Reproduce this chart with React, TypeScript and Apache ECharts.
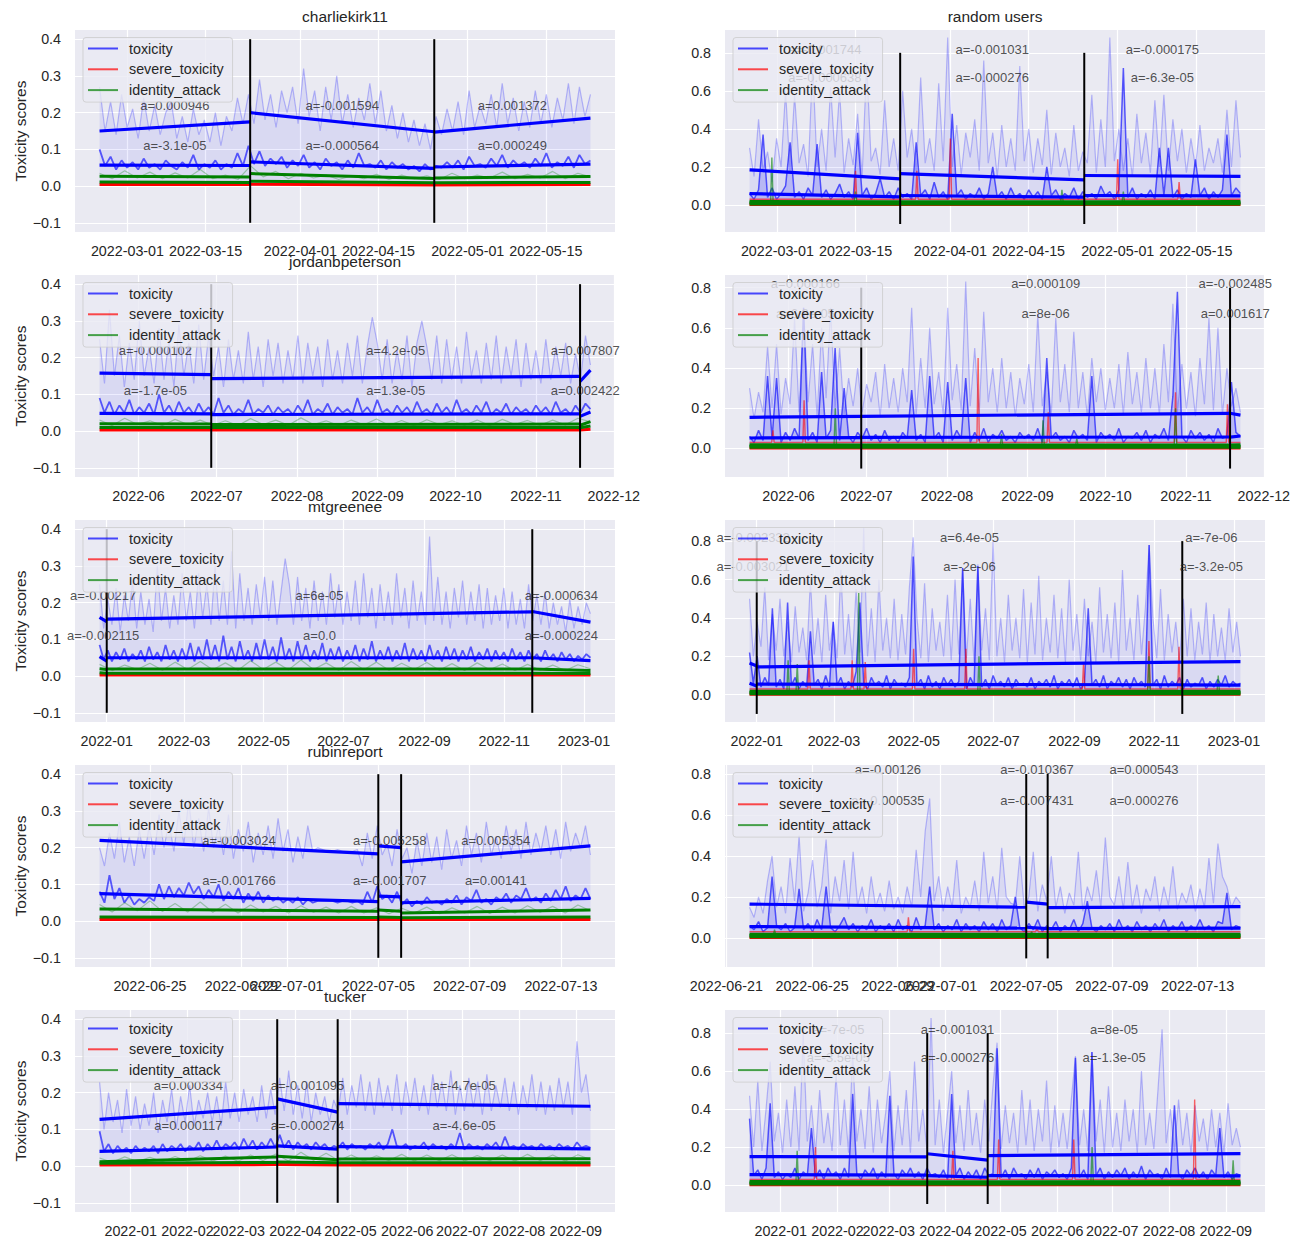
import React, { useEffect, useRef } from 'react';
import * as echarts from 'echarts';

const FONT = '"Liberation Sans", Arial, Helvetica, sans-serif';
const TXT = '#262626';

// ---------- axes / ticks ----------
const ROW1_TICKS = ['2022-03-01', '2022-03-15', '2022-04-01', '2022-04-15', '2022-05-01', '2022-05-15'];
const ROW2_TICKS = ['2022-06-01', '2022-07-01', '2022-08-01', '2022-09-01', '2022-10-01', '2022-11-01', '2022-12-01'];
const ROW3_TICKS = ['2022-01-01', '2022-03-01', '2022-05-01', '2022-07-01', '2022-09-01', '2022-11-01', '2023-01-01'];
const ROW4_TICKS = ['2022-06-21', '2022-06-25', '2022-06-29', '2022-07-01', '2022-07-05', '2022-07-09', '2022-07-13'];
const ROW5_TICKS = ['2022-01-01', '2022-02-01', '2022-03-01', '2022-04-01', '2022-05-01', '2022-06-01', '2022-07-01', '2022-08-01', '2022-09-01'];
const ROW_DAY_FMT = [true, false, false, true, false];

const LEFT_YTICKS = [-0.1, 0, 0.1, 0.2, 0.3, 0.4];
const RIGHT_YTICKS = [0, 0.2, 0.4, 0.6, 0.8];
const LEFT_Y = [-0.125, 0.425];
const RIGHT_Y_MIN = -0.142;
const RIGHT_Y_MAX = [0.92, 0.863, 0.91, 0.844, 0.922];
const VLINE_L = [-0.1, 0.4];
const VLINE_R = [-0.1, 0.8];
const ANN_Y_L = [0.22, 0.11];
const ANN_Y_R = [0.82, 0.67];

// ---------- date ranges / breakpoints ----------
const ROW1_RANGE = ['2022-02-24', '2022-05-23'];
const ROW1_BREAKS = ['2022-03-23', '2022-04-25'];
const ROW2_RANGE = ['2022-05-17', '2022-11-22'];
const ROW2_BREAKS = ['2022-06-29', '2022-11-18'];
const ROW3_RANGE = ['2021-12-26T12:00', '2023-01-06'];
const ROW3_BREAKS = ['2022-01-01', '2022-11-22T12:00'];
const ROW4_RANGE_L = ['2022-06-22T19:00', '2022-07-14T07:00'];
const ROW4_RANGE_R = ['2022-06-22T02:00', '2022-07-15'];
const ROW4_BREAKS = ['2022-07-05', '2022-07-06'];
const ROW5_RANGE = ['2021-12-15', '2022-09-09'];
const ROW5_BREAKS = ['2022-03-22', '2022-04-24'];

// ---------- values (thousandths) ----------
// charliekirk11
const CK_LIGHT = [270,150,230,140,250,160, 210,130,240,150,220,140,200, 230,130,190,120,210,140,180, 120,200,110,190,150,240,170, 250, 170,290,180,250,160,260,200, 270,170,320,190,260,150,270, 180,300,170,250,160,240,180, 280,170,260,150,220,130,200, 120,180,110,170,100,190,140, 210,150,230,140,260,160,220, 170,250,160,280,170,240,150, 230,160,260,170,250,160,240, 180,280,170,270,190,250];
const CK_DARK = [100,55,80,45,70,50, 65,45,75,50,60,45,70, 55,45,65,50,85,45,60, 50,70,45,60,50,90,55, 110, 60,95,55,75,60,80,50, 70,55,85,50,65,45,75, 55,65,45,70,50,90,55, 60,50,70,45,65,50,60, 45,55,40,60,45,55,50, 65,50,70,45,80,55,60, 50,75,55,85,50,70,55, 65,50,75,55,90,50,65, 55,80,50,85,60,70];
const CK_GREEN = [35,20,42,22,38,20,36,22,45,20,30,18,55,25,40,20,35,22,30,18,28,20,32,18,30,20,28,18,35,20,30,22,38,20,32,22,40,20,35,25];
const CK_HI = [[0.150, 0.175], [0.200, 0.148], [0.147, 0.185]];
const CK_LO = [[0.057, 0.056], [0.066, 0.048], [0.052, 0.060]];
const CK_GHI = [[0.027, 0.025], [0.034, 0.021], [0.022, 0.026]];
const CK_GLO = [[0.011, 0.010], [0.013, 0.009], [0.009, 0.010]];
const CK_RED = [[0.004, 0.004], [0.005, 0.003], [0.003, 0.004]];
const CK_ANN_HI = ['a=0.000946', 'a=-0.001594', 'a=0.001372'];
const CK_ANN_LO = ['a=-3.1e-05', 'a=-0.000564', 'a=0.000249'];

// random users (row 1)
const RU1_LIGHT = [300,150,450,180,280,120,350,200,600,170, 580,220,320,150,750,200,400,180,620,250, 600,170,350,210,480,150,750,230,300,160, 550,200,350,180,600,250,400,170,670,220, 350,180,640,230,880,200,420,160,380,250, 450,180,760,220,380,150,420,200,350,180, 730,230,400,170,350,210,500,160,380,200, 300,150,420,180,280,220,580,170,450,200, 880,230,400,180,350,150,480,220,380,170, 550,200,580,180,450,230,400,170,350,200, 420,180,300,220,350,170,500,200,550,250];
const RU1_DARK = [60,30,80,370,40,90,30,60,100,330, 40,70,30,90,50,320,40,80,30,60, 110,40,70,30,380,50,90,30,60,140, 40,70,30,90,40,60,30,330,50,80, 30,120,40,70,30,480,50,80,30,60, 40,90,30,60,200,40,70,30,90,40, 60,30,80,40,70,30,200,50,80,30, 60,40,90,30,70,40,60,30,100,50, 70,30,80,720,40,90,30,60,40,80, 30,300,50,300,40,80,30,60,40,240, 50,90,30,70,40,80,370,50,90,60];
const RU1_REDSPK = [['2022-03-15', 0.18], ['2022-03-26', 0.18], ['2022-04-01', 0.35], ['2022-05-01', 0.24], ['2022-05-12', 0.12]];
const RU1_GREENSPK = [['2022-02-28', 0.25], ['2022-03-15', 0.07], ['2022-04-21', 0.08], ['2022-05-02', 0.07]];
const RU1_HI = [[0.185, 0.137], [0.165, 0.132], [0.155, 0.150]];
const RU1_LO = [[0.060, 0.043], [0.050, 0.041], [0.050, 0.048]];
const RU1_ANN_HI = ['a=-0.001744', 'a=-0.001031', 'a=-0.000175'];
const RU1_ANN_LO = ['a=-0.000638', 'a=-0.000276', 'a=-6.3e-05'];

// jordanbpeterson
const JP_LIGHT = [250,130,330,150,260,120,240,140,300,150, 230,130,280,140,250,120,290,150,240,130, 290,140,260,150,230,120,250,140,220,130, 270,140,230,120,250,150,240,130,220,140, 260,130,240,150,230,120,250,140,220,130, 240,150,260,130,230,310,240,140,250,130, 220,140,260,120,240,300,230,140,260,130, 250,140,230,130,270,150,220,130,240,140, 260,130,230,150,250,120,240,140,220,130, 250,140,230,150,240,130,210,140,260,180];
const JP_DARK = [90,50,80,45,70,50,85,45,65,50, 75,45,100,50,70,45,80,50,65,45, 75,50,65,45,90,50,70,45,60,50, 85,45,60,50,70,45,65,50,60,45, 70,50,85,45,60,50,75,45,65,50, 60,45,90,50,65,45,85,50,60,45, 70,50,65,45,80,50,60,45,75,50, 65,45,85,50,60,45,70,50,80,45, 60,50,75,45,65,50,60,45,70,50, 65,45,80,50,60,45,70,50,75,60];
const JP_GREEN = [30,15,35,18,28,15,32,18,30,16,28,15,34,18,30,16,36,18,28,15,30,17,33,16,29,15,31,18,28,16,30,15,32,18,29,16,30,17,35,25];
const JP_HI = [[0.158, 0.154], [0.143, 0.149], [0.135, 0.166]];
const JP_LO = [[0.048, 0.047], [0.045, 0.047], [0.040, 0.052]];
const JP_GHI = [[0.020, 0.019], [0.018, 0.019], [0.016, 0.026]];
const JP_GLO = [[0.010, 0.010], [0.010, 0.010], [0.009, 0.014]];
const JP_RED = [[0.003, 0.003], [0.003, 0.003], [0.003, 0.005]];
const JP_ANN_HI = ['a=-0.000102', 'a=4.2e-05', 'a=0.007807'];
const JP_ANN_LO = ['a=-1.7e-05', 'a=1.3e-05', 'a=0.002422'];

// random users (row 2)
const RU2_LIGHT = [300,150,280,180,510,200,520,170,350,220, 650,180,700,230,520,160,600,250,700,200, 500,170,350,210,400,180,320,230,380,160, 420,200,350,180,400,230,700,170,450,200, 600,220,380,170,700,240,420,190,830,210, 500,170,680,230,400,180,450,200,380,160, 350,220,420,180,670,210,380,170,650,230, 420,180,580,200,380,160,450,230,400,190, 350,200,420,170,480,220,380,180,450,200, 400,170,520,230,720,180,420,200,380,160, 450,220,650,190,600,170,400,210,300,180];
const RU2_DARK = [60,30,90,40,360,50,350,30,80,40, 100,50,700,40,80,30,380,50,90,500, 40,300,60,30,80,50,100,40,70,30, 90,40,60,30,80,50,290,40,70,30, 360,50,80,30,330,40,90,50,350,30, 80,40,100,30,70,50,90,40,60,30, 80,50,70,40,100,30,450,50,80,40, 60,30,90,50,70,40,360,30,80,50, 70,40,100,30,60,50,80,40,90,30, 70,50,100,40,260,780,60,30,90,50, 80,40,70,30,100,50,60,330,80,60];
const RU2_REDSPK = [['2022-05-26', 0.09], ['2022-06-07', 0.24], ['2022-08-13', 0.45], ['2022-09-09', 0.18], ['2022-10-28', 0.28], ['2022-11-17', 0.22]];
const RU2_GREENSPK = [['2022-06-19', 0.2], ['2022-08-22', 0.07], ['2022-09-07', 0.14], ['2022-09-20', 0.05], ['2022-10-28', 0.2]];
const RU2_HI = [[0.155, 0.160], [0.160, 0.175], [0.175, 0.166]];
const RU2_LO = [[0.052, 0.054], [0.055, 0.057], [0.056, 0.062]];
const RU2_ANN_HI = ['a=0.000166', 'a=0.000109', 'a=-0.002485'];
const RU2_ANN_LO = ['a=6.8e-05', 'a=8e-06', 'a=0.001617'];

// mtgreenee
const MT_LIGHT = [250,130,210,140,240,120,220,150,260,130, 230,140,210,120,300,150,240,130,220,140, 280,150,230,130,280,160,250,140,300,150, 260,140,340,130,280,150,240,140,250,160, 270,150,260,140,230,320,250,140,270,150, 240,130,260,150,230,140,280,160,250,140, 230,150,260,140,280,160,240,130,250,150, 230,140,280,160,240,130,260,150,230,140, 380,150,270,140,230,130,240,160,260,140, 230,150,250,130,240,140,220,150,240,130, 230,140,210,130,250,150,220,140,230,130, 200,140,190,120,210,130,190,140,200,170];
const MT_DARK = [85,45,70,40,65,45,75,40,60,45, 70,40,80,45,65,40,85,45,70,40, 75,45,90,40,80,45,100,45,85,40, 110,45,80,40,95,45,70,40,90,45, 100,45,80,40,105,45,75,40,95,45, 85,40,70,45,90,40,75,45,80,40, 70,45,85,40,75,45,95,40,70,45, 80,40,70,45,90,40,75,45,70,40, 85,45,70,40,80,45,75,40,70,45, 80,40,65,45,75,40,70,45,65,40, 75,45,65,40,70,45,60,40,70,45, 60,40,65,45,60,40,55,45,60,50];
const MT_GREEN = [32,15,30,18,35,16,38,18,40,17,36,16,42,18,38,17,44,18,36,16,40,17,38,16,35,18,37,16,34,15,36,17,33,15,32,16,30,15,31,20];
const MT_HI = [[0.160, 0.148], [0.155, 0.175], [0.176, 0.147]];
const MT_LO = [[0.053, 0.041], [0.050, 0.050], [0.050, 0.042]];
const MT_GHI = [[0.020, 0.018], [0.019, 0.019], [0.019, 0.015]];
const MT_GLO = [[0.009, 0.008], [0.008, 0.008], [0.008, 0.007]];
const MT_RED = [[0.003, 0.003], [0.003, 0.003], [0.003, 0.003]];
const MT_ANN_HI = ['a=-0.00217', 'a=6e-05', 'a=-0.000634'];
const MT_ANN_LO = ['a=-0.002115', 'a=0.0', 'a=-0.000224'];

// random users (row 3)
const RU3_LIGHT = [500,200,380,250,560,180,420,230,500,200, 380,170,460,220,350,180,600,210,400,170, 520,230,380,190,650,210,420,180,550,220, 870,200,450,170,600,230,400,190,500,180, 420,210,560,820,400,190,580,170,450,230, 380,200,520,180,600,210,660,190,500,170, 680,230,450,180,800,200,400,170,520,230, 400,190,550,170,480,210,620,180,400,220, 520,190,450,170,600,230,420,180,500,200, 380,170,560,220,420,190,480,170,650,230, 400,180,520,210,450,780,400,190,550,180, 420,220,380,170,500,200,450,180,380,210, 480,170,420,200,350,180,450,220,380,200];
const RU3_DARK = [220,60,200,40,90,50,450,40,80,30, 480,50,90,30,70,40,330,50,80,30, 100,40,380,50,90,30,70,40,120,480, 60,30,90,50,70,40,100,30,80,50, 60,40,90,720,50,80,30,100,40,70, 30,90,50,80,40,70,660,30,90,50, 670,40,80,30,100,50,70,40,90,30, 80,50,60,40,90,30,70,50,80,40, 100,30,70,50,80,40,90,30,60,450, 50,80,40,100,30,70,50,90,40,80, 30,90,50,70,40,780,50,80,30,100, 40,70,50,90,30,80,40,60,50,90, 30,70,40,80,50,100,40,70,50,60];
const RU3_REDSPK = [['2022-02-10', 0.18], ['2022-03-15', 0.18], ['2022-03-25', 0.17], ['2022-05-01', 0.24], ['2022-06-10', 0.24], ['2022-09-08', 0.17], ['2022-10-28', 0.28], ['2022-11-20', 0.25]];
const RU3_GREENSPK = [['2022-01-25', 0.18], ['2022-02-01', 0.16], ['2022-03-20', 0.53], ['2022-06-20', 0.2], ['2022-10-28', 0.2], ['2022-12-20', 0.1]];
const RU3_HI = [[0.165, 0.150], [0.145, 0.170], [0.170, 0.172]];
const RU3_LO = [[0.060, 0.045], [0.055, 0.052], [0.051, 0.050]];
const RU3_ANN_HI = ['a=-0.002332', 'a=6.4e-05', 'a=-7e-06'];
const RU3_ANN_LO = ['a=-0.003021', 'a=-2e-06', 'a=-3.2e-05'];

// rubinreport
const RR_LIGHT = [200,150,240,170,270,160,230,150,250,170, 260,180,290,200,270,190,300,210,330,200, 280,190,310,200,260,180,290,170,250,190, 270,160,240,180,260,170,280,190,250,160, 230,170,260,190,200,195,190,190,195,190, 190,190,195,150,240,170,260,180,210,150, 250,170,200,130,220,150,240,160,230,140, 250,170,220,150,260,180,240,160,270,180, 230,170,260,190,250,170,270,180,240,190, 260,180,250,170,270,190,240,200,260,180];
const RR_DARK = [80,50,125,60,90,50,70,45,60,50, 65,55,100,60,95,65,90,70,105,75, 95,60,85,65,100,55,80,60,90,50, 75,55,80,50,70,55,65,50,60,50, 65,45,60,50,55,55,55,55,50,55, 55,50,55,45,80,50,95,60,70,50, 80,45,60,40,55,45,65,50,55,45, 60,50,70,45,65,55,85,50,60,45, 65,55,75,50,70,60,90,55,65,50, 75,55,85,60,95,55,70,60,90,60];
const RR_GREEN = [45,25,50,28,55,26,48,25,52,24,46,22,44,25,40,22,42,24,38,22,40,22,36,20,35,22,38,20,36,22,40,21,38,22,42,24,40,22,44,28];
const RR_HI = [[0.220, 0.183], [0.205, 0.200], [0.161, 0.205]];
const RR_LO = [[0.075, 0.053], [0.068, 0.066], [0.050, 0.062]];
const RR_GHI = [[0.033, 0.027], [0.030, 0.027], [0.022, 0.030]];
const RR_GLO = [[0.011, 0.010], [0.011, 0.010], [0.009, 0.011]];
const RR_RED = [[0.004, 0.004], [0.004, 0.004], [0.004, 0.004]];
const RR_ANN_HI = ['a=-0.003024', 'a=-0.005258', 'a=0.005354'];
const RR_ANN_LO = ['a=-0.001766', 'a=-0.001707', 'a=0.00141'];

// random users (row 4)
const RU4_LIGHT = [150,100,200,120,280,400,150,250,120,390, 180,500,130,220,380,150,250,480,120,300, 180,380,140,420,160,250,120,300,150,220, 130,280,140,200,120,250,150,430,200,520, 680,180,300,130,250,150,380,120,200,150, 280,130,420,170,300,140,440,200,170,160, 400,150,200,420,130,260,180,400,150,250, 120,220,160,420,130,250,180,330,150,490, 200,160,300,140,370,150,260,120,240,180, 300,130,250,160,350,140,220,170,260,130, 240,150,390,170,460,300,250,150,200,170];
const RU4_DARK = [60,40,80,30,50,300,60,40,70,30, 50,240,40,70,30,90,40,250,50,30, 60,100,40,70,30,60,40,90,30,60, 40,70,30,90,40,60,30,100,40,60, 250,40,70,30,60,40,90,30,70,40, 60,30,80,40,70,30,90,40,60,200, 50,30,70,40,90,30,60,40,80,30, 60,40,90,30,70,180,50,30,60,40, 70,30,90,40,60,30,80,40,60,30, 70,40,90,30,60,40,80,30,60,40, 90,40,60,30,80,70,220,40,60,50];
const RU4_REDSPK = [['2022-06-29T12:00', 0.1], ['2022-07-05T12:00', 0.05]];
const RU4_GREENSPK = [['2022-06-23T06:00', 0.04], ['2022-07-05T06:00', 0.03]];
const RU4_HI = [[0.165, 0.150], [0.175, 0.165], [0.148, 0.153]];
const RU4_LO = [[0.055, 0.048], [0.052, 0.045], [0.045, 0.048]];
const RU4_ANN_HI = ['a=-0.00126', 'a=-0.010367', 'a=0.000543'];
const RU4_ANN_LO = ['a=-0.000535', 'a=-0.007431', 'a=0.000276'];

// tucker
const TK_LIGHT = [230,100,200,120,180,90,210,110,190,100, 170,110,200,90,180,120,210,100,190,120, 220,110,180,130,200,120,190,110,230,130, 200,120,210,140,190,120,220,130,210,140, 240,150,260,140,220,130,230,120,200,140, 190,120,180,150,240,140,220,160,250,150, 230,140,240,160,220,150,250,140,230,160, 240,150,220,140,250,160,230,150,260,140, 220,150,240,160,230,140,250,150,220,160, 240,150,230,140,220,160,250,150,230,140, 220,150,240,160,230,140,340,200,250,150];
const TK_DARK = [95,40,60,35,55,40,50,35,55,40, 50,40,55,35,60,40,55,45,60,40, 55,45,65,40,60,45,70,45,60,50, 65,45,75,50,70,45,65,50,75,50, 85,50,70,45,65,50,60,45,65,50, 60,45,55,50,65,45,60,50,55,45, 60,50,65,45,60,100,55,50,60,45, 55,50,65,45,60,50,55,45,60,50, 90,45,60,50,55,45,60,50,65,45, 80,50,55,45,60,50,55,45,60,50, 55,45,60,50,55,45,65,50,55,50];
const TK_GREEN = [22,10,25,12,24,12,26,13,28,14,27,13,30,15,33,14,38,16,35,15,30,14,28,15,32,14,30,15,31,14,29,15,30,14,32,15,30,14,31,18];
const TK_HI = [[0.127, 0.160], [0.183, 0.147], [0.170, 0.163]];
const TK_LO = [[0.040, 0.052], [0.055, 0.046], [0.053, 0.047]];
const TK_GHI = [[0.012, 0.025], [0.027, 0.017], [0.019, 0.020]];
const TK_GLO = [[0.008, 0.010], [0.011, 0.009], [0.009, 0.009]];
const TK_RED = [[0.003, 0.004], [0.004, 0.003], [0.003, 0.003]];
const TK_ANN_HI = ['a=0.000334', 'a=-0.001095', 'a=-4.7e-05'];
const TK_ANN_LO = ['a=0.000117', 'a=-0.000274', 'a=-4.6e-05'];

// random users (row 5)
const RU5_LIGHT = [470,200,550,180,400,650,230,380,170,450, 200,520,180,800,230,420,170,500,220,380, 180,600,210,450,170,700,230,400,190,520, 170,450,220,380,600,180,420,210,500,170, 650,230,400,190,880,210,450,170,380,600, 220,420,180,500,210,380,170,450,230,520, 750,190,420,220,380,170,500,210,450,180, 400,230,550,170,420,200,380,190,450,680, 210,400,180,700,230,450,170,520,200,380, 180,450,230,400,170,600,210,380,190,500, 820,220,400,180,450,210,380,170,420,230, 350,180,400,200,380,170,430,210,300,200];
const RU5_DARK = [350,50,80,30,90,430,40,70,30,60, 40,90,30,70,50,300,40,80,30,90, 50,70,30,90,40,480,60,30,80,50, 90,30,70,40,470,60,30,80,50,90, 40,70,30,90,50,60,40,80,30,480, 50,90,30,70,40,80,30,90,50,60, 720,40,80,30,90,50,60,30,80,40, 90,30,70,50,80,40,60,30,90,670, 40,80,30,700,50,90,30,70,40,80, 50,90,30,70,40,100,30,80,50,60, 30,90,40,420,60,30,80,50,90,40, 70,30,80,50,300,40,70,30,60,50];
const RU5_REDSPK = [['2022-01-20', 0.2], ['2022-04-05', 0.18], ['2022-04-30', 0.24], ['2022-06-10', 0.24], ['2022-08-15', 0.45]];
const RU5_GREENSPK = [['2022-01-10', 0.18], ['2022-06-20', 0.2], ['2022-09-05', 0.13]];
const RU5_HI = [[0.150, 0.148], [0.165, 0.131], [0.155, 0.165]];
const RU5_LO = [[0.055, 0.052], [0.050, 0.041], [0.050, 0.048]];
const RU5_ANN_HI = ['a=-7e-05', 'a=-0.001031', 'a=8e-05'];
const RU5_ANN_LO = ['a=-3.5e-05', 'a=-0.000276', 'a=-1.3e-05'];

// shared trend levels for random users (identity / severe)
const RAND_GHI = [[0.016, 0.015], [0.015, 0.015], [0.015, 0.016]];
const RAND_GLO = [[0.008, 0.008], [0.008, 0.008], [0.008, 0.008]];
const RAND_RED = [[0.002, 0.002], [0.002, 0.002], [0.002, 0.002]];

const TITLES_LEFT = ['charliekirk11', 'jordanbpeterson', 'mtgreenee', 'rubinreport', 'tucker'];
const TITLE_RIGHT_TOP = 'random users';

type Panel = {
  col: number; row: number; range: string[]; breaks: string[];
  light: number[]; dark: number[]; green?: number[];
  redSpk?: any[]; greenSpk?: any[];
  hi: number[][]; lo: number[][]; ghi: number[][]; glo: number[][]; red: number[][];
  annHi: string[]; annLo: string[];
};

const PANELS: Panel[] = [
  { col: 0, row: 0, range: ROW1_RANGE, breaks: ROW1_BREAKS, light: CK_LIGHT, dark: CK_DARK, green: CK_GREEN, hi: CK_HI, lo: CK_LO, ghi: CK_GHI, glo: CK_GLO, red: CK_RED, annHi: CK_ANN_HI, annLo: CK_ANN_LO },
  { col: 1, row: 0, range: ROW1_RANGE, breaks: ROW1_BREAKS, light: RU1_LIGHT, dark: RU1_DARK, redSpk: RU1_REDSPK, greenSpk: RU1_GREENSPK, hi: RU1_HI, lo: RU1_LO, ghi: RAND_GHI, glo: RAND_GLO, red: RAND_RED, annHi: RU1_ANN_HI, annLo: RU1_ANN_LO },
  { col: 0, row: 1, range: ROW2_RANGE, breaks: ROW2_BREAKS, light: JP_LIGHT, dark: JP_DARK, green: JP_GREEN, hi: JP_HI, lo: JP_LO, ghi: JP_GHI, glo: JP_GLO, red: JP_RED, annHi: JP_ANN_HI, annLo: JP_ANN_LO },
  { col: 1, row: 1, range: ROW2_RANGE, breaks: ROW2_BREAKS, light: RU2_LIGHT, dark: RU2_DARK, redSpk: RU2_REDSPK, greenSpk: RU2_GREENSPK, hi: RU2_HI, lo: RU2_LO, ghi: RAND_GHI, glo: RAND_GLO, red: RAND_RED, annHi: RU2_ANN_HI, annLo: RU2_ANN_LO },
  { col: 0, row: 2, range: ROW3_RANGE, breaks: ROW3_BREAKS, light: MT_LIGHT, dark: MT_DARK, green: MT_GREEN, hi: MT_HI, lo: MT_LO, ghi: MT_GHI, glo: MT_GLO, red: MT_RED, annHi: MT_ANN_HI, annLo: MT_ANN_LO },
  { col: 1, row: 2, range: ROW3_RANGE, breaks: ROW3_BREAKS, light: RU3_LIGHT, dark: RU3_DARK, redSpk: RU3_REDSPK, greenSpk: RU3_GREENSPK, hi: RU3_HI, lo: RU3_LO, ghi: RAND_GHI, glo: RAND_GLO, red: RAND_RED, annHi: RU3_ANN_HI, annLo: RU3_ANN_LO },
  { col: 0, row: 3, range: ROW4_RANGE_L, breaks: ROW4_BREAKS, light: RR_LIGHT, dark: RR_DARK, green: RR_GREEN, hi: RR_HI, lo: RR_LO, ghi: RR_GHI, glo: RR_GLO, red: RR_RED, annHi: RR_ANN_HI, annLo: RR_ANN_LO },
  { col: 1, row: 3, range: ROW4_RANGE_R, breaks: ROW4_BREAKS, light: RU4_LIGHT, dark: RU4_DARK, redSpk: RU4_REDSPK, greenSpk: RU4_GREENSPK, hi: RU4_HI, lo: RU4_LO, ghi: RAND_GHI, glo: RAND_GLO, red: RAND_RED, annHi: RU4_ANN_HI, annLo: RU4_ANN_LO },
  { col: 0, row: 4, range: ROW5_RANGE, breaks: ROW5_BREAKS, light: TK_LIGHT, dark: TK_DARK, green: TK_GREEN, hi: TK_HI, lo: TK_LO, ghi: TK_GHI, glo: TK_GLO, red: TK_RED, annHi: TK_ANN_HI, annLo: TK_ANN_LO },
  { col: 1, row: 4, range: ROW5_RANGE, breaks: ROW5_BREAKS, light: RU5_LIGHT, dark: RU5_DARK, redSpk: RU5_REDSPK, greenSpk: RU5_GREENSPK, hi: RU5_HI, lo: RU5_LO, ghi: RAND_GHI, glo: RAND_GLO, red: RAND_RED, annHi: RU5_ANN_HI, annLo: RU5_ANN_LO },
];
const ROW_TICKS = [ROW1_TICKS, ROW2_TICKS, ROW3_TICKS, ROW4_TICKS, ROW5_TICKS];

// ---------- layout (not data) ----------
const GRID_LEFT = [75, 725];
const GRID_TOP = [30, 275, 520, 765, 1010];
const GRID_W = 540;
const GRID_H = 202;

const ms = (s: string) => Date.parse(s.length === 10 ? s + 'T00:00:00Z' : s + ':00Z');
const fmtDate = (v: number, day: boolean) => {
  const d = new Date(v);
  const y = d.getUTCFullYear();
  const m = String(d.getUTCMonth() + 1).padStart(2, '0');
  const dd = String(d.getUTCDate()).padStart(2, '0');
  return day ? `${y}-${m}-${dd}` : `${y}-${m}`;
};
const fmtY = (v: number) => {
  const s = Math.abs(v).toFixed(1);
  return v < -1e-9 ? '\u2212' + s : s;
};

function buildOption() {
  const grid: any[] = [];
  const xAxis: any[] = [];
  const yAxis: any[] = [];
  const series: any[] = [];
  const legend: any[] = [];
  const graphic: any[] = [];

  PANELS.forEach((p, gi) => {
    const left = GRID_LEFT[p.col];
    const top = GRID_TOP[p.row];
    const isL = p.col === 0;
    grid.push({ left, top, width: GRID_W, height: GRID_H, show: true, backgroundColor: '#eaeaf2', borderWidth: 0, containLabel: false, outerBoundsMode: 'none' });

    const t0 = ms(p.range[0]);
    const t1 = ms(p.range[1]);
    const span = t1 - t0;
    const xmin = t0 - 0.05 * span;
    const xmax = t1 + 0.05 * span;
    const xt = ROW_TICKS[p.row].map(ms).filter((v) => v >= xmin && v <= xmax);
    const dayFmt = ROW_DAY_FMT[p.row];
    xAxis.push({
      type: 'value', gridIndex: gi, min: xmin, max: xmax, scale: true,
      axisLine: { show: false }, axisTick: { show: false, customValues: xt },
      axisLabel: { customValues: xt, formatter: (v: number) => fmtDate(v, dayFmt), color: TXT, fontSize: 14.3, fontFamily: FONT, margin: 12 },
      splitLine: { show: true, lineStyle: { color: '#ffffff', width: 1.2 } },
    });
    const yt = isL ? LEFT_YTICKS : RIGHT_YTICKS;
    yAxis.push({
      type: 'value', gridIndex: gi,
      min: isL ? LEFT_Y[0] : RIGHT_Y_MIN, max: isL ? LEFT_Y[1] : RIGHT_Y_MAX[p.row],
      axisLine: { show: false }, axisTick: { show: false, customValues: yt },
      axisLabel: { customValues: yt, formatter: fmtY, color: TXT, fontSize: 14.3, fontFamily: FONT, margin: 14 },
      splitLine: { show: true, lineStyle: { color: '#ffffff', width: 1.2 } },
      name: isL ? 'Toxicity scores' : '', nameLocation: 'middle', nameGap: 46, nameRotate: 90,
      nameTextStyle: { color: TXT, fontSize: 15.5, fontFamily: FONT },
    });

    const sample = (arr: number[]) => arr.map((v, i) => [t0 + (span * i) / (arr.length - 1), v / 1000]);
    const base = { xAxisIndex: gi, yAxisIndex: gi, symbol: 'none', silent: true, animation: false };

    series.push({ ...base, type: 'line', data: sample(p.light), lineStyle: { color: 'rgba(0,0,255,0.24)', width: 1.2 }, areaStyle: { color: 'rgba(0,0,255,0.1)' }, z: 2 });
    series.push({
      ...base, type: 'line', data: sample(p.dark),
      lineStyle: { color: 'rgba(0,0,255,0.62)', width: isL ? 1.8 : 1.5 },
      areaStyle: isL ? undefined : { color: 'rgba(0,0,255,0.22)' }, z: 3,
    });
    if (p.green) {
      series.push({ ...base, type: 'line', data: sample(p.green), lineStyle: { color: 'rgba(0,128,0,0.3)', width: 1.2 }, z: 3 });
    }
    const spikeData = (spk: any[], b: number) => {
      const dt = span * 0.0025;
      const pts: any[] = [[t0, b]];
      spk.map((s) => [ms(s[0]), s[1]]).sort((a, c) => a[0] - c[0]).forEach((s) => {
        pts.push([s[0] - dt, b], [s[0], s[1]], [s[0] + dt, b]);
      });
      pts.push([t1, b]);
      return pts;
    };
    if (p.redSpk) series.push({ ...base, type: 'line', data: spikeData(p.redSpk, 0.03), lineStyle: { color: 'rgba(255,0,0,0.6)', width: 1.4 }, z: 4 });
    if (p.greenSpk) series.push({ ...base, type: 'line', data: spikeData(p.greenSpk, 0.015), lineStyle: { color: 'rgba(0,128,0,0.6)', width: 1.4 }, z: 4 });

    const seg = [t0, ms(p.breaks[0]), ms(p.breaks[1]), t1];
    const trend = (vals: number[][], color: string, width: number, name: string | null) => {
      vals.forEach((v, k) => {
        const s: any = { ...base, type: 'line', data: [[seg[k], v[0]], [seg[k + 1], v[1]]], lineStyle: { color, width }, z: 5 };
        if (k === 0 && name) s.name = name;
        series.push(s);
      });
    };
    trend(p.red, '#ff0000', 3, 'severe_toxicity');
    trend(p.glo, '#008000', isL ? 3 : 4, null);
    trend(p.ghi, '#008000', isL ? 3 : 4, 'identity_attack');
    trend(p.lo, '#0000ff', 3.2, null);
    trend(p.hi, '#0000ff', 3.2, 'toxicity');

    const vl = isL ? VLINE_L : VLINE_R;
    p.breaks.forEach((b) => {
      const tb = ms(b);
      series.push({ ...base, type: 'line', data: [[tb, vl[0]], [tb, vl[1]]], lineStyle: { color: '#000000', width: 2 }, z: 6 });
    });

    const ay = isL ? ANN_Y_L : ANN_Y_R;
    const annData: any[] = [];
    [0, 1, 2].forEach((k) => {
      const mid = (seg[k] + seg[k + 1]) / 2;
      annData.push({ value: [mid, ay[0]], label: { formatter: p.annHi[k] } });
      annData.push({ value: [mid, ay[1]], label: { formatter: p.annLo[k] } });
    });
    series.push({
      type: 'scatter', xAxisIndex: gi, yAxisIndex: gi, silent: true, animation: false, symbolSize: 1,
      itemStyle: { color: 'rgba(0,0,0,0)' }, data: annData, z: 7,
      label: { show: true, position: 'inside', color: TXT, fontSize: 13, fontFamily: FONT },
    });

    legend.push({
      left: left + 8, top: top + 7.5, orient: 'vertical', selectedMode: false, icon: 'rect',
      itemWidth: 30, itemHeight: 2, itemGap: 4.8, padding: [3, 9, 4, 5],
      backgroundColor: 'rgba(234,234,242,0.8)', borderColor: 'rgba(204,204,204,0.8)', borderWidth: 1, borderRadius: 3,
      textStyle: { color: TXT, fontSize: 14.3, fontFamily: FONT, lineHeight: 16, padding: [0, 0, 0, 6] },
      data: [
        { name: 'toxicity', itemStyle: { color: 'rgba(0,0,255,0.7)', borderWidth: 0 } },
        { name: 'severe_toxicity', itemStyle: { color: 'rgba(255,0,0,0.7)', borderWidth: 0 } },
        { name: 'identity_attack', itemStyle: { color: 'rgba(0,128,0,0.7)', borderWidth: 0 } },
      ],
      z: 10,
    });

    const title = isL ? TITLES_LEFT[p.row] : p.row === 0 ? TITLE_RIGHT_TOP : '';
    if (title) {
      graphic.push({
        type: 'text', x: left + GRID_W / 2, y: top - 14, z: 20,
        style: { text: title, x: 0, y: 0, align: 'center', verticalAlign: 'middle', textAlign: 'center', textVerticalAlign: 'middle', fill: TXT, font: `15.5px ${FONT}` },
      });
    }
  });

  return { animation: false, backgroundColor: '#ffffff', grid, xAxis, yAxis, series, legend, graphic };
}

export default function App() {
  const ref = useRef<HTMLDivElement>(null);
  useEffect(() => {
    if (!ref.current) return;
    const chart = echarts.init(ref.current, undefined, { renderer: 'svg' });
    chart.setOption(buildOption() as any);
    return () => chart.dispose();
  }, []);
  return <div ref={ref} style={{ position: 'absolute', left: 0, top: 0, width: 1304, height: 1240 }} />;
}
